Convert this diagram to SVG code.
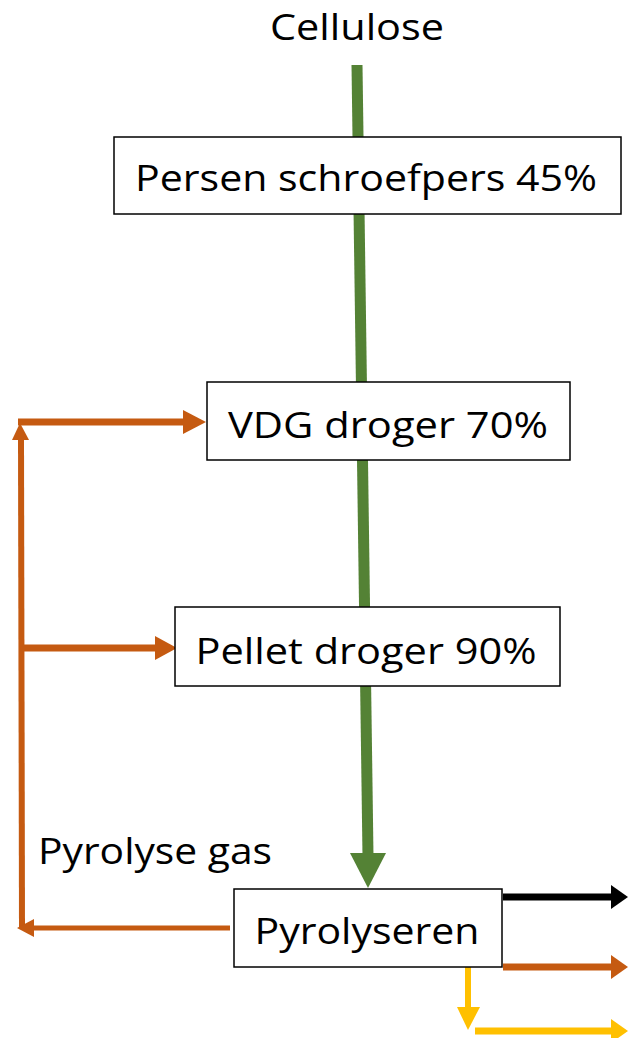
<svg xmlns="http://www.w3.org/2000/svg" width="628" height="1038" viewBox="0 0 628 1038">
<style>
.box{fill:#fff;stroke:#000;stroke-width:1.5}
.t{font-family:"Open Sans","Liberation Sans",Arial,sans-serif;font-size:37px;fill:#000}
.g{stroke:#548235;fill:none}
.o{stroke:#C55A11;fill:none}
.y{stroke:#FFC000;fill:none}
.k{stroke:#000;fill:none}
</style>
<rect width="628" height="1038" fill="#fff"/>
<g id="connectors">
  <line class="g" x1="357" y1="65" x2="368" y2="856" stroke-width="11"/>
  <polygon points="350,853 386,853 368,888" fill="#548235"/>
  <line class="o" x1="21" y1="438" x2="22" y2="928" stroke-width="6"/>
  <polygon points="12,440 29,440 20,423" fill="#C55A11"/>
  <line class="o" x1="18" y1="422" x2="185" y2="422" stroke-width="7"/>
  <polygon points="183,410 183,434 206,422" fill="#C55A11"/>
  <line class="o" x1="22" y1="648" x2="157" y2="648" stroke-width="7"/>
  <polygon points="155,636 155,660 177,648" fill="#C55A11"/>
  <line class="o" x1="230" y1="928" x2="32" y2="928" stroke-width="5"/>
  <polygon points="34,919 34,937 17,928" fill="#C55A11"/>
  <line class="k" x1="503" y1="897" x2="613" y2="897" stroke-width="7"/>
  <polygon points="611,885 611,909 628,897" fill="#000"/>
  <line class="o" x1="503" y1="967" x2="613" y2="967" stroke-width="7"/>
  <polygon points="611,955 611,979 628,967" fill="#C55A11"/>
  <line class="y" x1="468" y1="967" x2="468" y2="1009" stroke-width="6"/>
  <polygon points="457,1007 480,1007 468,1030" fill="#FFC000"/>
  <line class="y" x1="475" y1="1031" x2="613" y2="1031" stroke-width="7"/>
  <polygon points="611,1019 611,1043 628,1031" fill="#FFC000"/>
</g>
<g id="cellulose">
  <text class="t" x="357" y="40" text-anchor="middle" textLength="174" lengthAdjust="spacingAndGlyphs">Cellulose</text>
</g>
<g id="persen">
  <rect class="box" x="114" y="137" width="507" height="77"/>
  <text class="t" x="366" y="191" text-anchor="middle" textLength="462" lengthAdjust="spacingAndGlyphs">Persen schroefpers 45%</text>
</g>
<g id="vdg">
  <rect class="box" x="207" y="382" width="363" height="78"/>
  <text class="t" x="388" y="438" text-anchor="middle" textLength="320" lengthAdjust="spacingAndGlyphs">VDG droger 70%</text>
</g>
<g id="pellet">
  <rect class="box" x="175" y="607" width="385" height="79"/>
  <text class="t" x="366" y="664" text-anchor="middle" textLength="341" lengthAdjust="spacingAndGlyphs">Pellet droger 90%</text>
</g>
<g id="pyrolyseren">
  <rect class="box" x="234" y="889" width="268" height="78"/>
  <text class="t" x="367" y="944" text-anchor="middle" textLength="225" lengthAdjust="spacingAndGlyphs">Pyrolyseren</text>
</g>
<g id="pyrolyse-gas-label">
  <text class="t" x="155" y="864" text-anchor="middle" textLength="234" lengthAdjust="spacingAndGlyphs">Pyrolyse gas</text>
</g>
</svg>
